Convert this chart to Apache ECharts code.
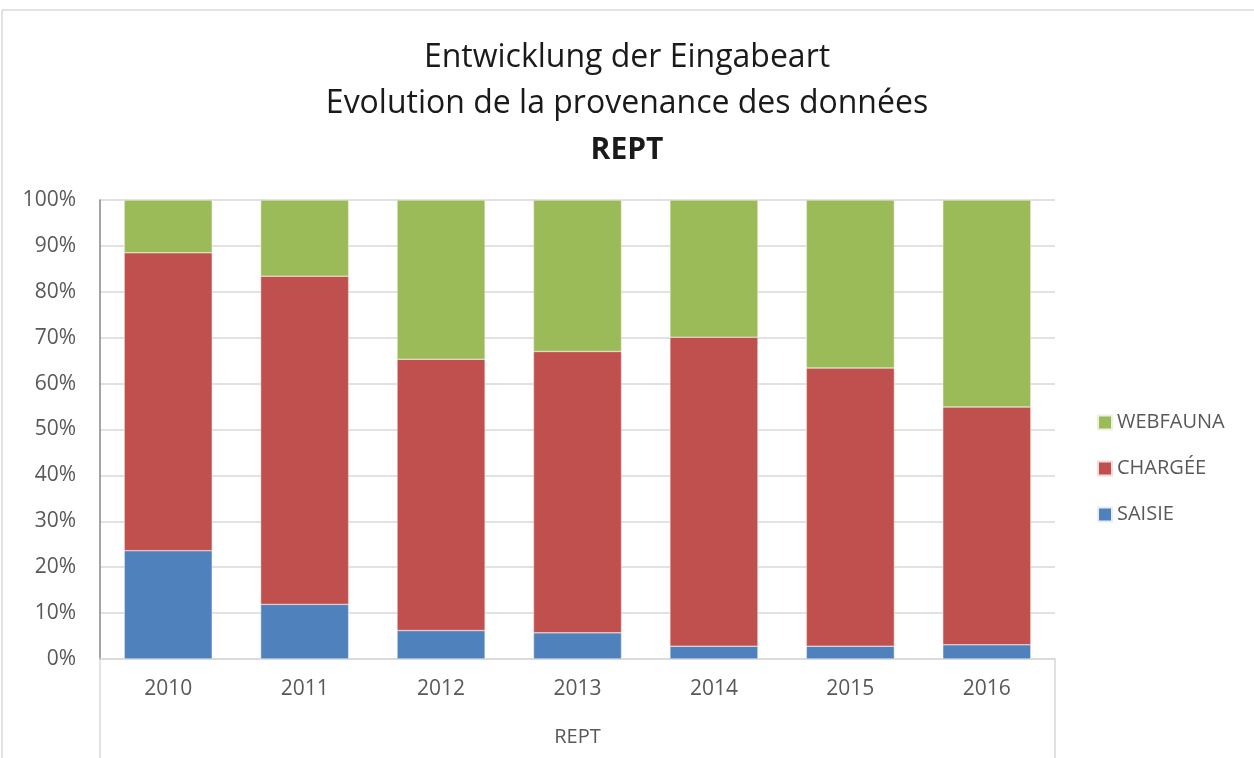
<!DOCTYPE html>
<html>
<head>
<meta charset="utf-8">
<script src="https://cdn.jsdelivr.net/npm/echarts@6/dist/echarts.min.js"></script>
<style>
html, body { margin: 0; padding: 0; background: #fff; }
#chart { width: 1254px; height: 758px; }
</style>
</head>
<body>
<div id="chart"></div>
<script>
var years = ['2010', '2011', '2012', '2013', '2014', '2015', '2016'];
var saisie = [23.6, 11.9, 6.2, 5.7, 2.8, 2.8, 3.1];
var chargee = [64.9, 71.5, 59.1, 61.3, 67.3, 60.6, 51.8];
var webfauna = [11.5, 16.6, 34.7, 33.0, 29.9, 36.6, 45.1];

var font = '"Open Sans", "Noto Sans", sans-serif';
var myChart = echarts.init(document.getElementById('chart'));

var option = {
    animation: false,
    textStyle: {fontFamily: font},
    title: {
        text: 'Entwicklung der Eingabeart\nEvolution de la provenance des données\n{b|REPT}',
        left: 'center',
        top: 30,
        textStyle: {
            fontFamily: font,
            fontSize: 32,
            fontWeight: 'normal',
            color: '#1a1a1a',
            lineHeight: 46,
            rich: {
                b: {fontFamily: font, fontSize: 30, fontWeight: 'bold', color: '#1a1a1a', lineHeight: 46}
            }
        }
    },
    legend: {
        orient: 'vertical',
        left: 1092,
        top: 407,
        itemWidth: 14,
        itemHeight: 14,
        itemGap: 25,
        icon: 'rect',
        data: ['WEBFAUNA', 'CHARGÉE', 'SAISIE'],
        textStyle: {fontFamily: font, fontSize: 20, lineHeight: 21, color: '#595959'}
    },
    grid: {left: 100, right: 199, top: 200, bottom: 99},
    xAxis: {
        type: 'category',
        data: years,
        name: 'REPT',
        nameLocation: 'middle',
        nameGap: 68,
        nameTextStyle: {fontFamily: font, fontSize: 20, color: '#595959'},
        axisLine: {lineStyle: {color: '#d9d9d9', width: 1.5}},
        axisTick: {show: false},
        axisLabel: {fontFamily: font, fontSize: 21, color: '#595959', margin: 20}
    },
    yAxis: {
        type: 'value',
        min: 0,
        max: 100,
        interval: 10,
        axisLine: {show: true, lineStyle: {color: '#868686', width: 1.5}},
        axisTick: {show: false},
        splitLine: {lineStyle: {color: '#d9d9d9', width: 1.5}},
        axisLabel: {formatter: '{value}%', fontFamily: font, fontSize: 21, color: '#595959', margin: 24}
    },
    series: [
        {name: 'SAISIE', type: 'bar', stack: 'a', barWidth: 88, data: saisie,
            itemStyle: {color: '#4F81BD', borderColor: '#e8eef7', borderWidth: 0.5}},
        {name: 'CHARGÉE', type: 'bar', stack: 'a', barWidth: 88, data: chargee,
            itemStyle: {color: '#C0504D', borderColor: '#f2dcdb', borderWidth: 0.5}},
        {name: 'WEBFAUNA', type: 'bar', stack: 'a', barWidth: 88, data: webfauna,
            itemStyle: {color: '#9BBB59', borderColor: '#ebf1de', borderWidth: 0.5}}
    ],
    graphic: [
        {type: 'line', shape: {x1: 2, y1: 10, x2: 1254, y2: 10}, style: {stroke: '#d9d9d9', lineWidth: 1.5}},
        {type: 'line', shape: {x1: 2, y1: 10, x2: 2, y2: 758}, style: {stroke: '#d9d9d9', lineWidth: 1.5}},
        {type: 'line', shape: {x1: 100, y1: 659, x2: 100, y2: 758}, style: {stroke: '#d9d9d9', lineWidth: 1.5}},
        {type: 'line', shape: {x1: 1055, y1: 659, x2: 1055, y2: 758}, style: {stroke: '#d9d9d9', lineWidth: 1.5}}
    ]
};

myChart.setOption(option);
</script>
</body>
</html>
